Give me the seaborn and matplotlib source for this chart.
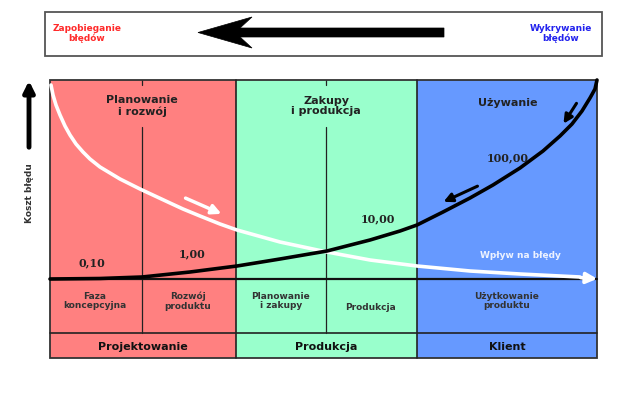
import numpy as np
import pandas as pd
import matplotlib
matplotlib.use("Agg")
import matplotlib.pyplot as plt
from matplotlib.patches import Rectangle, Polygon
import seaborn as sns

# data (pixel coordinates of the schematic, y grows downward)
phases = ["Projektowanie", "Produkcja", "Klient"]
phase_colors = ["#ff8080", "#99ffcc", "#6699ff"]
phase_edges = [50, 236, 417, 597]
headings = ["Planowanie\ni rozwój", "Zakupy\ni produkcja", "Używanie"]
subphases = ["Faza\nkoncepcyjna", "Rozwój\nproduktu", "Planowanie\ni zakupy", "Produkcja", "Użytkowanie\nproduktu"]
subphase_x = [95, 188, 281, 370, 507]
cost_labels = ["0,10", "1,00", "10,00", "100,00"]
cost_label_xy = [(92, 263), (192, 254), (378, 219), (508, 158)]

cost_x = [50, 100, 142, 190, 237, 280, 327, 370, 400, 417, 443, 470, 493, 520, 543, 560, 572, 582, 590, 595, 597]
cost_y = [279, 278.5, 277, 272, 266, 259, 251, 240, 231, 225, 212, 198, 185, 168, 151, 136, 124, 111, 98, 89, 80]

impact_x = [51, 53, 56, 60, 65, 70, 76, 83, 90, 100, 110, 120, 130, 140, 155, 170, 183, 200, 220, 237,
            280, 327, 370, 417, 470, 520, 560, 580]
impact_y = [85, 95, 105, 115, 126, 135, 144, 152, 159, 167, 173, 179, 184, 189, 196, 203, 209, 216, 224, 230,
            242, 252, 260, 266, 271, 274, 276, 277]

sns.set_theme(style="white")
plt.rcParams["font.family"] = ["DejaVu Sans"]

fig = plt.figure(figsize=(6.28, 3.99), dpi=100)
ax = fig.add_axes([0, 0, 1, 1])

top, mid, row2, bottom = 80, 279, 333, 358

# coloured columns
for i, c in enumerate(phase_colors):
    x0, x1 = phase_edges[i], phase_edges[i + 1]
    ax.add_patch(Rectangle((x0, top), x1 - x0, bottom - top, facecolor=c, edgecolor="none", zorder=0))
    ax.text((x0 + x1) / 2, (row2 + bottom) / 2 + 1, phases[i], ha="center", va="center",
            fontsize=8, fontweight="bold", color="#111111")

# grid lines
ax.add_patch(Rectangle((50, top), 547, bottom - top, fill=False, edgecolor="#333333", lw=1.3, zorder=3))
for x in phase_edges[1:3]:
    ax.plot([x, x], [top, bottom], color="#222222", lw=1.2, zorder=3)
for x in [142, 326]:
    ax.plot([x, x], [127, row2], color="#222222", lw=0.9, zorder=1)
    ax.plot([x, x], [top, 85], color="#222222", lw=0.9, zorder=1)
ax.plot([50, 597], [row2, row2], color="#222222", lw=1.2, zorder=3)
ax.plot([50, 597], [mid, mid], color="#111111", lw=1.6, zorder=3)

for i, h in enumerate(headings):
    hx = [142, 326, 508][i]
    ax.text(hx, 106 if i < 2 else 103, h, ha="center", va="center", fontsize=8,
            fontweight="bold", color="#222222", linespacing=1.1)

for t, x in zip(subphases, subphase_x):
    yy = 307 if t == "Produkcja" else 301
    ax.text(x, yy, t, ha="center", va="center", fontsize=6.5, fontweight="bold",
            color="#333333", linespacing=1.1)

# curves
sns.lineplot(x=impact_x, y=impact_y, ax=ax, color="white", lw=2.6, sort=False, zorder=4)
ax.lines[-1].set_solid_joinstyle("round")
ax.annotate("", xy=(600, 279), xytext=(578, 277.5),
            arrowprops=dict(arrowstyle="-|>", color="white", lw=2.6, mutation_scale=16), zorder=4)
sns.lineplot(x=cost_x, y=cost_y, ax=ax, color="black", lw=2.6, sort=False, zorder=5)
ax.lines[-1].set_solid_joinstyle("round")

# small direction arrows
ax.annotate("", xy=(224, 215), xytext=(183, 197),
            arrowprops=dict(arrowstyle="-|>", color="white", lw=2.5, mutation_scale=14), zorder=4)
ax.annotate("", xy=(562, 126), xytext=(578, 101),
            arrowprops=dict(arrowstyle="-|>", color="black", lw=2.2, mutation_scale=13), zorder=5)
ax.annotate("", xy=(441, 203), xytext=(480, 185),
            arrowprops=dict(arrowstyle="-|>", color="black", lw=2.2, mutation_scale=13), zorder=5)

for t, (x, y) in zip(cost_labels, cost_label_xy):
    ax.text(x, y, t, ha="center", va="center", fontsize=8, fontweight="bold",
            family="DejaVu Serif", color="#222222", zorder=6)

ax.text(520, 256, "Wpływ na błędy", ha="center", va="center", fontsize=6.5,
        fontweight="bold", color="#eef3ff", zorder=6)

# y axis arrow and label
ax.annotate("", xy=(29, 78), xytext=(29, 150),
            arrowprops=dict(arrowstyle="-|>", color="black", lw=3.5, mutation_scale=16))
ax.text(29, 193, "Koszt błędu", rotation=90, ha="center", va="center", fontsize=6.5,
        fontweight="bold", color="#333333")

# top box with big arrow
ax.add_patch(Rectangle((45, 12), 557, 44, fill=False, edgecolor="#555555", lw=1.3))
ax.add_patch(Polygon([(198, 32.5), (252, 17), (240, 28), (444, 28), (444, 37), (240, 37), (252, 48)],
                     closed=True, facecolor="black", edgecolor="black", lw=0.5))
ax.text(87, 33.5, "Zapobieganie\nbłędów", ha="center", va="center", fontsize=6.5,
        fontweight="bold", color="#ff2a2a", linespacing=1.1)
ax.text(561, 33.5, "Wykrywanie\nbłędów", ha="center", va="center", fontsize=6.5,
        fontweight="bold", color="#2222ee", linespacing=1.1)

ax.set_xlim(0, 628)
ax.set_ylim(399, 0)
ax.axis("off")
fig.savefig("out.png", dpi=100)
